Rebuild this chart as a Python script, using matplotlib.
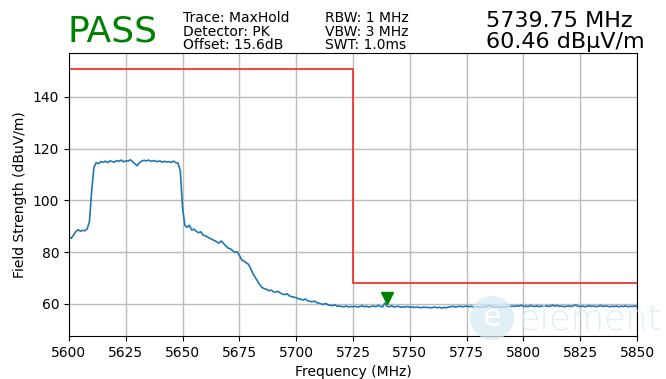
import numpy as np
import matplotlib.pyplot as plt
from matplotlib.patches import Circle

# Trace data (1 MHz steps)
freq_start = 5600
freq_stop = 5850
level = [
    85.8, 85.4, 86.6, 87.9, 88.7, 88.1, 88.4, 88.3, 89.0, 91.8,
    104.0, 112.9, 114.6, 114.2, 115.0, 114.7, 115.2, 114.6, 115.3, 115.0,
    114.8, 115.4, 115.1, 115.6, 114.9, 115.3, 115.2, 115.7, 115.0, 114.2,
    113.4, 114.6, 115.2, 115.5, 115.3, 115.6, 115.1, 115.4, 115.2, 115.0,
    115.3, 114.8, 115.1, 114.9, 115.0, 114.7, 115.2, 114.6, 114.4, 111.5,
    97.0, 90.3, 89.6, 90.4, 88.6, 88.9, 88.1, 87.5, 87.9, 86.6,
    86.3, 85.8, 85.4, 84.9, 84.5, 84.0, 83.5, 84.3, 83.4, 82.4,
    81.6, 81.3, 80.6, 79.9, 80.2, 78.8, 77.0, 76.6, 75.9, 75.3,
    73.5, 71.6, 70.2, 68.8, 67.4, 66.3, 65.9, 65.6, 65.1, 65.3,
    64.7, 64.5, 64.9, 64.2, 63.8, 63.6, 63.9, 63.1, 62.8, 62.6,
    62.4, 62.0, 61.8, 61.5, 61.9, 61.2, 61.0, 60.8, 61.1, 60.5,
    60.3, 60.0, 59.8, 60.2, 59.6, 59.5, 59.3, 59.7, 59.1, 59.2,
    59.0, 58.9, 59.2, 58.8, 59.0, 58.9, 59.1, 58.8, 59.0, 59.3,
    58.9, 59.1, 58.8, 59.0, 59.2, 58.9, 59.4, 59.1, 58.8, 60.4,
    59.1, 58.9, 59.3, 58.8, 59.0, 59.1, 58.7, 58.9, 58.8, 59.0,
    58.7, 58.9, 58.6, 58.8, 58.7, 58.5, 58.8, 58.6, 58.7, 58.5,
    58.6, 58.8, 58.5, 58.7, 58.4, 58.6, 58.5, 58.8, 58.9, 59.1,
    58.8, 59.0, 59.1, 58.9, 59.0, 59.2, 58.9, 59.1, 58.8, 59.0,
    58.9, 58.7, 59.0, 58.8, 59.1, 59.4, 58.9, 58.8, 59.0, 58.9,
    58.7, 58.9, 58.8, 59.1, 58.9, 59.2, 59.0, 59.3, 59.1, 59.5,
    59.0, 59.2, 58.9, 59.4, 59.1, 59.0, 59.3, 58.9, 59.2, 59.0,
    59.3, 59.0, 59.2, 59.5, 59.1, 59.4, 59.0, 59.2, 58.9, 59.1,
    59.2, 59.0, 59.3, 59.6, 59.1, 59.0, 59.2, 58.9, 59.1, 59.3,
    59.0, 59.2, 58.9, 59.1, 59.4, 59.0, 59.2, 59.1, 58.9, 59.1,
    59.0, 59.2, 58.9, 59.1, 59.0, 59.3, 58.9, 59.1, 59.0, 59.2, 59.0,
]
freq = np.arange(freq_start, freq_stop + 1, 1)

# Limit mask
limit_freq = [5600, 5725, 5725, 5850]
limit_level = [151, 151, 68, 68]

# Marker
marker_freq = 5739.75
marker_level = 60.46

header_col1 = ['Trace: MaxHold', 'Detector: PK', 'Offset: 15.6dB']
header_col2 = ['RBW: 1 MHz', 'VBW: 3 MHz', 'SWT: 1.0ms']
verdict = 'PASS'

fig = plt.figure(figsize=(6.66, 3.79), dpi=100)
ax = fig.add_axes([0.1036, 0.1135, 0.8529, 0.7467])

ax.plot(freq, level, color='#1f77b4', linewidth=1.2)
ax.plot(limit_freq, limit_level, color='#ee3333', linewidth=1.3)
ax.plot([marker_freq], [marker_level + 1.9], marker='v', color='green',
        markersize=8, linestyle='none')

ax.set_xlim(5600, 5850)
ax.set_ylim(47.6, 157)
ax.set_xticks(np.arange(5600, 5851, 25))
ax.set_yticks([60, 80, 100, 120, 140])
ax.grid(True, color='#bcbcbc', linewidth=1.0)
ax.set_axisbelow(True)
ax.tick_params(labelsize=10)
ax.set_xlabel('Frequency (MHz)', fontsize=10)
ax.set_ylabel('Field Strength (dBuV/m)', fontsize=10)

# header
fig.text(0.102, 0.918, verdict, color='green', fontsize=26, va='center')
for i, (a, b) in enumerate(zip(header_col1, header_col2)):
    y = 1 - (18 + 13.5 * i) / 379
    fig.text(183 / 666, y, a, fontsize=10, va='center')
    fig.text(325 / 666, y, b, fontsize=10, va='center')
fig.text(486 / 666, 1 - 21 / 379, '%.2f MHz' % marker_freq, fontsize=16, va='center')
fig.text(486 / 666, 1 - 42 / 379, '%.2f dB\u00b5V/m' % marker_level, fontsize=16, va='center')

# watermark
logo = Circle((4.92, 0.61), 0.22, transform=fig.dpi_scale_trans,
              facecolor='#d8ecf4', edgecolor='none', alpha=0.75, zorder=5)
fig.patches.append(logo)
fig.text(4.92 / 6.66, 0.61 / 3.79, 'e', color='white', fontsize=22,
         ha='center', va='center', zorder=6)
fig.text(518 / 666, 1 - 330 / 379, 'element', color='#d8ecf4', fontsize=25,
         fontweight='light', va='baseline', alpha=0.8, zorder=5)

fig.savefig('out.png', dpi=100)
